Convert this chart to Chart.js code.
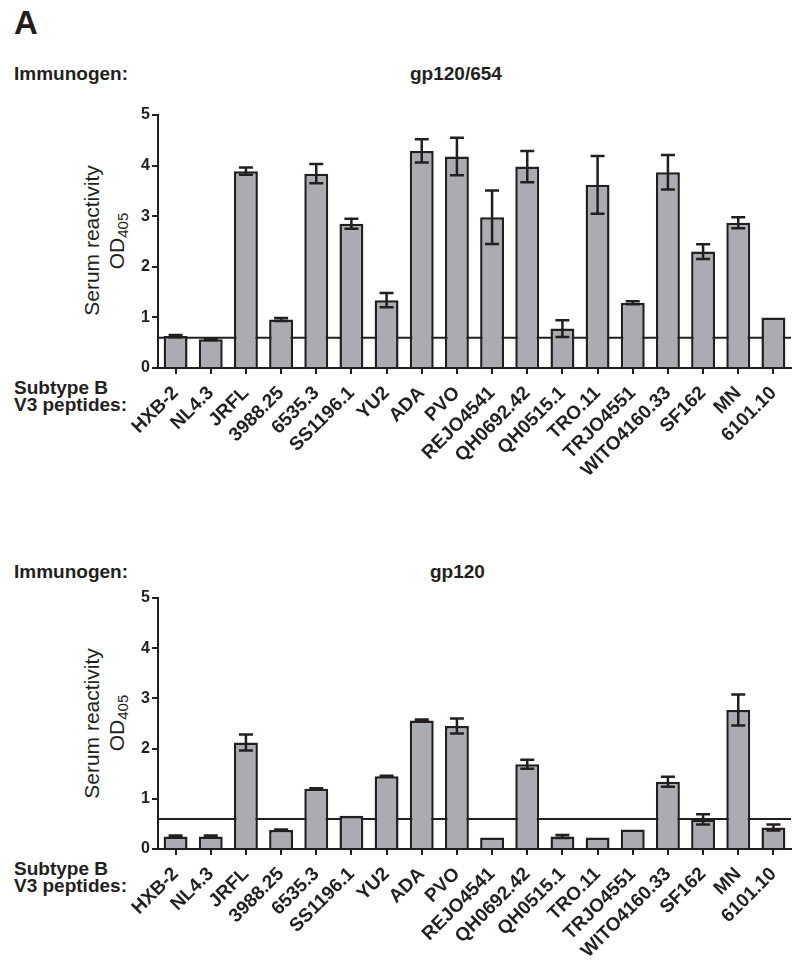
<!DOCTYPE html>
<html>
<head>
<meta charset="utf-8">
<script src="https://cdn.jsdelivr.net/npm/chart.js@4.4.1/dist/chart.umd.min.js"></script>
<style>
  html, body { margin: 0; padding: 0; background: #fff; }
  body { width: 799px; height: 963px; position: relative; overflow: hidden; font-family: 'Liberation Sans', Arial, sans-serif; color: #231f20; }
  .txt { position: absolute; white-space: nowrap; line-height: 1; }
  .b { font-weight: bold; }
  canvas { position: absolute; left: 0; }
  .ytitle { position: absolute; width: 240px; text-align: center; transform: rotate(-90deg); font-size: 21px; line-height: 1; white-space: nowrap; }
  .ytitle sub { font-size: 15px; vertical-align: -4px; }
</style>
</head>
<body>
<div class="txt b" style="left:14px;top:6px;font-size:33px;">A</div>

<div class="txt b" style="left:14px;top:64px;font-size:19px;">Immunogen:</div>
<div class="txt b" style="left:410px;top:64px;font-size:19px;">gp120/654</div>
<div class="ytitle" style="left:-29px;top:230px;">Serum reactivity</div>
<div class="ytitle" style="left:-2px;top:229px;">OD<sub>405</sub></div>
<div class="txt b" style="left:14px;top:378px;font-size:19px;">Subtype B</div>
<div class="txt b" style="left:14px;top:395px;font-size:19px;">V3 peptides:</div>

<div class="txt b" style="left:14px;top:562px;font-size:19px;">Immunogen:</div>
<div class="txt b" style="left:430px;top:562px;font-size:19px;">gp120</div>
<div class="ytitle" style="left:-29px;top:713px;">Serum reactivity</div>
<div class="ytitle" style="left:-2px;top:711px;">OD<sub>405</sub></div>
<div class="txt b" style="left:14px;top:859px;font-size:19px;">Subtype B</div>
<div class="txt b" style="left:14px;top:876px;font-size:19px;">V3 peptides:</div>

<canvas id="c1" width="799" height="390" style="top:95px;"></canvas>
<canvas id="c2" width="799" height="385" style="top:578px;"></canvas>

<script>
const categories = ['HXB-2','NL4.3','JRFL','3988.25','6535.3','SS1196.1','YU2','ADA','PVO','REJO4541','QH0692.42','QH0515.1','TRO.11','TRJO4551','WITO4160.33','SF162','MN','6101.10'];
const gp654Mean = [0.63,0.57,3.89,0.96,3.84,2.85,1.34,4.29,4.18,2.98,3.98,0.78,3.62,1.29,3.87,2.30,2.87,1.00];
const gp654Err  = [0.02,0.02,0.07,0.03,0.19,0.10,0.14,0.23,0.37,0.53,0.31,0.165,0.57,0.03,0.34,0.145,0.11,0];
const gp120Mean = [0.25,0.25,2.12,0.38,1.20,0.66,1.45,2.56,2.45,0.23,1.69,0.25,0.23,0.39,1.34,0.59,2.77,0.43];
const gp120Err  = [0.02,0.02,0.16,0.01,0.01,0,0.01,0.02,0.15,0,0.09,0.03,0,0,0.10,0.10,0.31,0.06];
const yTicks = [0,1,2,3,4,5];
const threshold = 0.6;

const INK = '#231f20';
const BAR = '#abacb1';

const refLine = {
  id: 'refLine',
  beforeDatasetsDraw(chart) {
    const {ctx, chartArea, scales} = chart;
    const y = scales.y.getPixelForValue(threshold);
    ctx.save();
    ctx.strokeStyle = INK; ctx.lineWidth = 2;
    ctx.beginPath(); ctx.moveTo(chartArea.left, y); ctx.lineTo(chartArea.right, y); ctx.stroke();
    ctx.restore();
  }
};

const errBars = {
  id: 'errBars',
  afterDatasetsDraw(chart) {
    const {ctx, scales} = chart;
    const errs = chart.options.plugins.errBars.errors;
    const meta = chart.getDatasetMeta(0);
    const vals = chart.data.datasets[0].data;
    ctx.save();
    ctx.strokeStyle = INK; ctx.lineWidth = 2.5;
    meta.data.forEach((bar, i) => {
      const e = errs[i];
      if (!e) return;
      const x = bar.x;
      const yt = scales.y.getPixelForValue(vals[i] + e);
      const yb = scales.y.getPixelForValue(vals[i] - e);
      ctx.beginPath();
      ctx.moveTo(x, yt); ctx.lineTo(x, yb);
      ctx.moveTo(x - 7, yt); ctx.lineTo(x + 7, yt);
      ctx.moveTo(x - 7, yb); ctx.lineTo(x + 7, yb);
      ctx.stroke();
    });
    ctx.restore();
  }
};

function makeChart(id, values, errors, xHeight) {
  return new Chart(document.getElementById(id), {
    type: 'bar',
    data: {
      labels: categories,
      datasets: [{
        data: values,
        backgroundColor: BAR,
        borderColor: INK,
        borderWidth: 2.5,
        barPercentage: 0.68,
        categoryPercentage: 1.0
      }]
    },
    options: {
      responsive: false,
      animation: false,
      devicePixelRatio: 1,
      layout: { padding: { top: 20, right: 8, left: 0, bottom: 0 } },
      plugins: {
        legend: { display: false },
        tooltip: { enabled: false },
        errBars: { errors: errors }
      },
      scales: {
        x: {
          afterFit(scale) { scale.height = xHeight; },
          grid: { display: true, offset: false, drawOnChartArea: false, drawTicks: true, tickLength: 6, color: INK, lineWidth: 2 },
          border: { display: true, color: INK, width: 2 },
          ticks: { autoSkip: false, minRotation: 45, maxRotation: 45, padding: 8, color: INK, font: { family: "'Liberation Sans', Arial, sans-serif", size: 19, weight: 'bold' } }
        },
        y: {
          min: 0, max: 5,
          afterFit(scale) { scale.width = 158; },
          afterBuildTicks(scale) { scale.ticks = yTicks.map(v => ({ value: v })); },
          grid: { display: true, drawOnChartArea: false, drawTicks: true, tickLength: 6, color: INK, lineWidth: 2 },
          border: { display: true, color: INK, width: 2 },
          ticks: { padding: 2, color: INK, font: { family: "'Liberation Sans', Arial, sans-serif", size: 16, weight: 'bold' } }
        }
      }
    },
    plugins: [refLine, errBars]
  });
}

makeChart('c1', gp654Mean, gp654Err, 117);
makeChart('c2', gp120Mean, gp120Err, 114);
</script>
</body>
</html>
